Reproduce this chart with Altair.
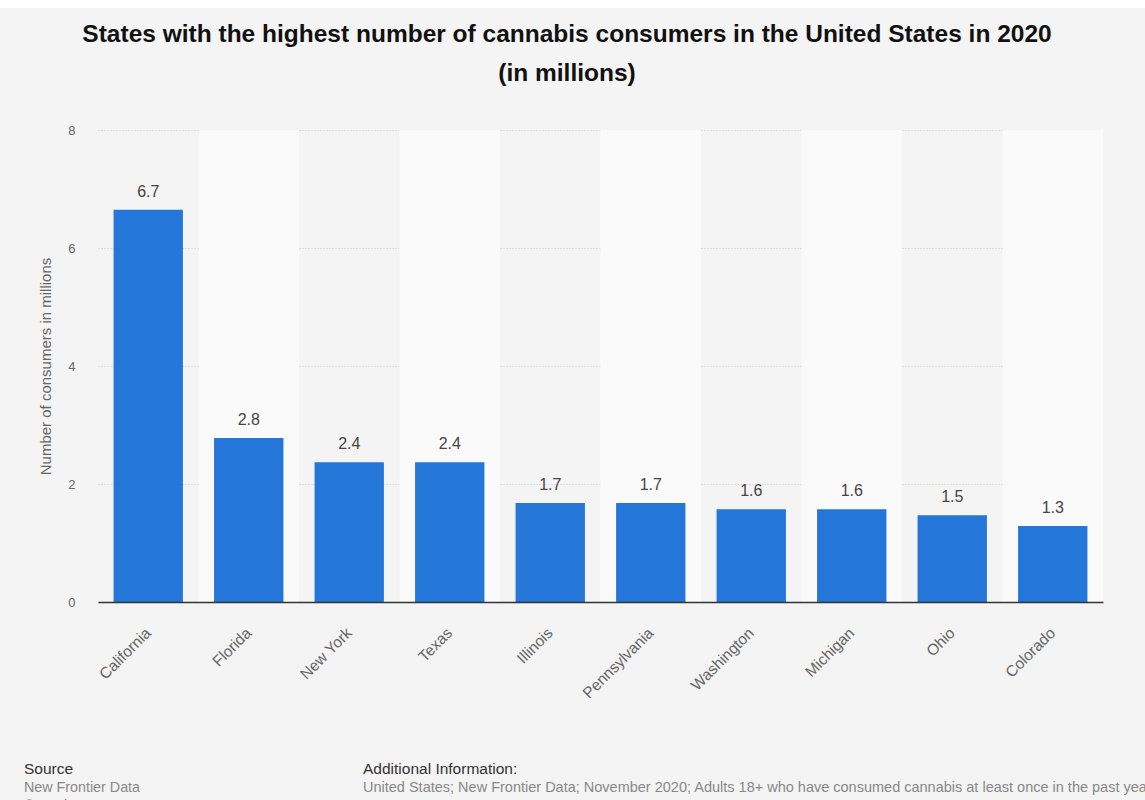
import altair as alt
import pandas as pd

states = ["California", "Florida", "New York", "Texas", "Illinois",
          "Pennsylvania", "Washington", "Michigan", "Ohio", "Colorado"]
values = [6.65, 2.78, 2.37, 2.37, 1.68, 1.68, 1.57, 1.57, 1.47, 1.29]
labels = ["6.7", "2.8", "2.4", "2.4", "1.7", "1.7", "1.6", "1.6", "1.5", "1.3"]
y_ticks = [0, 2, 4, 6, 8]

title_1 = "States with the highest number of cannabis consumers in the United States in 2020"
title_2 = "(in millions)"
y_title = "Number of consumers in millions"
source_head = "Source"
source_body = "New Frontier Data"
source_copy = "© Statista 2021"
info_head = "Additional Information:"
info_body = ("United States; New Frontier Data; November 2020; Adults 18+ who have "
             "consumed cannabis at least once in the past year")

W, H = 1005, 472
FONT = "Liberation Sans"

df = pd.DataFrame({"state": states, "value": values, "label": labels,
                   "shade": [i % 2 == 1 for i in range(len(states))]})

x_enc = alt.X("state:N", sort=states,
              scale=alt.Scale(paddingInner=0, paddingOuter=0),
              axis=alt.Axis(title=None, labelAngle=-45, labelAlign="right",
                            labelBaseline="middle", labelPadding=28,
                            labelFontSize=15.5, labelColor="#666666",
                            labelFont=FONT, ticks=False, domain=True,
                            domainColor="#333333", domainWidth=1.5,
                            grid=False))

base = alt.Chart(df)

bands = base.transform_filter(alt.datum.shade).mark_rect(color="#fafafa").encode(
    x=x_enc, y=alt.value(0), y2=alt.value(H))

bars = base.mark_bar(color="#2476d9", width=alt.RelativeBandSize(0.69)).encode(
    x=x_enc,
    y=alt.Y("value:Q", scale=alt.Scale(domain=[0, 8], nice=False),
            axis=alt.Axis(values=y_ticks, format="d", title=y_title,
                          titleFont=FONT, titleFontSize=15,
                          titleFontWeight="normal", titleColor="#666666",
                          titlePadding=14, labelFont=FONT, labelFontSize=13,
                          labelColor="#666666", labelPadding=23,
                          ticks=False, domain=False, grid=True,
                          gridColor="#c8c8c8", gridDash=[1, 2])))

text = base.mark_text(font=FONT, fontSize=16, color="#444444",
                      baseline="alphabetic", dy=-13).encode(
    x=alt.X("state:N", sort=states), y="value:Q", text="label:N")

def note(s, x, y, size, color, weight="normal", align="left"):
    return alt.Chart(pd.DataFrame({"t": [s]})).mark_text(
        font=FONT, fontSize=size, color=color, fontWeight=weight,
        align=align, baseline="alphabetic").encode(
        text="t:N", x=alt.value(x), y=alt.value(y))

top_strip = alt.Chart(pd.DataFrame({"t": [0]})).mark_rect(color="white").encode(
    x=alt.value(-98), x2=alt.value(1047), y=alt.value(-130), y2=alt.value(-122))

notes = [
    note(title_1, 567 - 98, 42 - 130, 24.5, "#111111", "bold", "center"),
    note(title_2, 567 - 98, 81 - 130, 24.5, "#111111", "bold", "center"),
    note(source_head, 24 - 98, 774 - 130, 15.5, "#333333"),
    note(source_body, 24 - 98, 792 - 130, 14.3, "#888888"),
    note(source_copy, 24 - 98, 810 - 130, 14.3, "#888888"),
    note(info_head, 363 - 98, 774 - 130, 15.5, "#333333"),
    note(info_body, 363 - 98, 792 - 130, 14.5, "#888888"),
]

chart = alt.layer(top_strip, bands, bars, text, *notes).properties(
    width=W, height=H,
    autosize=alt.AutoSizeParams(type="none"),
    padding={"left": 98, "top": 130, "right": 42, "bottom": 198},
    background="#f4f4f4",
).configure_view(stroke=None)

chart.save("out.html", embed_options={"renderer": "svg", "actions": False})
